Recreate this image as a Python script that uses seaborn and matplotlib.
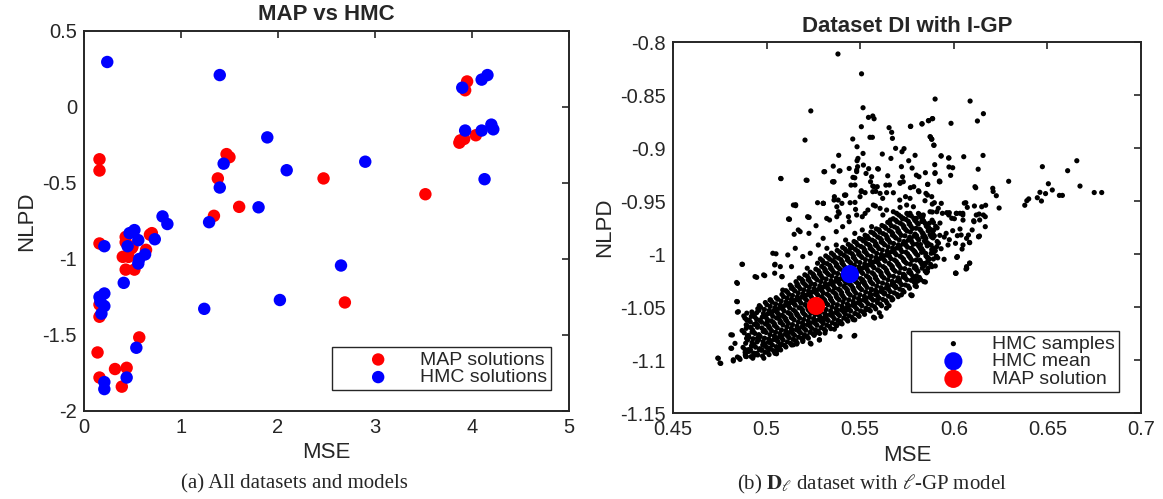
import pandas as pd
import seaborn as sns
import matplotlib.pyplot as plt
from matplotlib.ticker import FuncFormatter, MultipleLocator

# ====== STYLE ======
sns.set_theme(style="white")
plt.rcParams['font.family'] = ['Liberation Sans', 'DejaVu Sans']
plt.rcParams['mathtext.fontset'] = 'stix'
plt.rcParams['axes.unicode_minus'] = False

# ====== DATA (a): MAP vs HMC, all datasets and models ======
map_mse = [3.95, 3.93, 3.88, 3.92, 4.04, 3.87, 1.47, 1.50, 1.38, 1.34, 1.60, 2.47,
           3.52, 2.69, 0.16, 0.16, 0.16, 0.43, 0.43, 0.49, 0.64, 0.68, 0.70, 0.40,
           0.46, 0.43, 0.52, 0.50, 0.16, 0.16, 0.14, 0.57, 0.32, 0.44, 0.16, 0.39]
map_nlpd = [0.168, 0.11, -0.22, -0.21, -0.186, -0.235, -0.31, -0.33, -0.47, -0.716,
            -0.657, -0.47, -0.574, -1.286, -0.344, -0.418, -0.898, -0.855, -0.89,
            -0.93, -0.94, -0.84, -0.83, -0.986, -0.986, -1.07, -1.07, -0.92, -1.30,
            -1.38, -1.615, -1.516, -1.724, -1.716, -1.78, -1.84]

hmc_mse = [0.24, 1.40, 3.90, 4.10, 4.16, 3.93, 4.10, 4.20, 4.22, 4.13, 1.89, 2.09,
           2.90, 1.44, 1.40, 1.80, 1.29, 0.81, 0.86, 0.73, 0.21, 0.52, 0.47, 0.45,
           0.56, 0.63, 0.57, 0.56, 0.41, 2.65, 2.02, 1.24, 0.21, 0.16, 0.17, 0.21,
           0.18, 0.54, 0.44, 0.21, 0.21]
hmc_nlpd = [0.296, 0.21, 0.127, 0.18, 0.21, -0.155, -0.155, -0.116, -0.147, -0.475,
            -0.20, -0.416, -0.36, -0.373, -0.53, -0.66, -0.758, -0.72, -0.77, -0.87,
            -0.916, -0.81, -0.83, -0.916, -0.876, -0.97, -1.0, -1.03, -1.157, -1.043,
            -1.27, -1.328, -1.227, -1.25, -1.28, -1.31, -1.36, -1.584, -1.78, -1.81,
            -1.856]

# ====== DATA (b): HMC samples for dataset D_l with l-GP ======
# dense band of samples
samples_core = [
    (0.4886, -1.0953), (0.4874, -1.0881), (0.4893, -1.0796), (0.4869, -1.0722), (0.4891, -1.0668), (0.4878, -1.0584),
    (0.4917, -1.0968), (0.4903, -1.0902), (0.4922, -1.0834), (0.4898, -1.0771), (0.4915, -1.0693), (0.4907, -1.0626), (0.4921, -1.0547),
    (0.4946, -1.0937), (0.4932, -1.0858), (0.4951, -1.0795), (0.4928, -1.0728), (0.4944, -1.0655), (0.4936, -1.0592), (0.4953, -1.0516),
    (0.4978, -1.0962), (0.4963, -1.0893), (0.4981, -1.0826), (0.4959, -1.0764), (0.4974, -1.0697), (0.4966, -1.0628), (0.4983, -1.0561), (0.4961, -1.0487),
    (0.5006, -1.0928), (0.4991, -1.0866), (0.5012, -1.0802), (0.4988, -1.0719), (0.5003, -1.0664), (0.4996, -1.0597), (0.5014, -1.0533), (0.4993, -1.0458),
    (0.5037, -1.0912), (0.5022, -1.0838), (0.5041, -1.0773), (0.5018, -1.0702), (0.5033, -1.0641), (0.5026, -1.0566), (0.5044, -1.0508), (0.5021, -1.0433),
    (0.5068, -1.0884), (0.5053, -1.0812), (0.5071, -1.0749), (0.5049, -1.0683), (0.5064, -1.0607), (0.5056, -1.0551), (0.5073, -1.0479), (0.5051, -1.0412),
    (0.5095, -1.0862), (0.5081, -1.0791), (0.5102, -1.0724), (0.5078, -1.0648), (0.5093, -1.0593), (0.5086, -1.0517), (0.5104, -1.0452), (0.5082, -1.0381),
    (0.5127, -1.0843), (0.5112, -1.0768), (0.5131, -1.0702), (0.5108, -1.0634), (0.5123, -1.0562), (0.5116, -1.0488), (0.5133, -1.0427), (0.5111, -1.0359), (0.5126, -1.0294),
    (0.5156, -1.0818), (0.5141, -1.0752), (0.5162, -1.0681), (0.5138, -1.0607), (0.5153, -1.0543), (0.5146, -1.0468), (0.5164, -1.0404), (0.5142, -1.0332), (0.5157, -1.0261),
    (0.5187, -1.0797), (0.5172, -1.0724), (0.5191, -1.0652), (0.5168, -1.0583), (0.5183, -1.0511), (0.5176, -1.0442), (0.5193, -1.0374), (0.5171, -1.0306), (0.5186, -1.0238),
    (0.5216, -1.0773), (0.5201, -1.0704), (0.5222, -1.0631), (0.5198, -1.0562), (0.5213, -1.0488), (0.5206, -1.0421), (0.5224, -1.0348), (0.5202, -1.0283), (0.5217, -1.0209),
    (0.5247, -1.0752), (0.5232, -1.0681), (0.5251, -1.0609), (0.5228, -1.0537), (0.5243, -1.0468), (0.5236, -1.0397), (0.5253, -1.0326), (0.5231, -1.0258), (0.5246, -1.0187),
    (0.5276, -1.0728), (0.5261, -1.0657), (0.5282, -1.0583), (0.5258, -1.0514), (0.5273, -1.0442), (0.5266, -1.0371), (0.5284, -1.0302), (0.5262, -1.0229), (0.5277, -1.0158),
    (0.5307, -1.0708), (0.5292, -1.0634), (0.5311, -1.0562), (0.5288, -1.0489), (0.5303, -1.0421), (0.5296, -1.0348), (0.5313, -1.0277), (0.5291, -1.0206), (0.5306, -1.0133), (0.5298, -1.0062),
    (0.5336, -1.0683), (0.5321, -1.0612), (0.5342, -1.0538), (0.5318, -1.0464), (0.5333, -1.0393), (0.5326, -1.0322), (0.5344, -1.0251), (0.5322, -1.0178), (0.5337, -1.0108), (0.5329, -1.0034),
    (0.5367, -1.0662), (0.5352, -1.0587), (0.5371, -1.0514), (0.5348, -1.0442), (0.5363, -1.0368), (0.5356, -1.0297), (0.5373, -1.0226), (0.5351, -1.0152), (0.5366, -1.0081), (0.5358, -1.0009),
    (0.5396, -1.0638), (0.5381, -1.0566), (0.5402, -1.0491), (0.5378, -1.0417), (0.5393, -1.0344), (0.5386, -1.0271), (0.5404, -1.0198), (0.5382, -1.0126), (0.5397, -1.0053), (0.5389, -0.9981),
    (0.5427, -1.0617), (0.5412, -1.0548), (0.5431, -1.0472), (0.5408, -1.0398), (0.5423, -1.0322), (0.5416, -1.0251), (0.5433, -1.0173), (0.5411, -1.0104), (0.5426, -1.0027), (0.5418, -0.9953),
    (0.5456, -1.0598), (0.5441, -1.0522), (0.5462, -1.0447), (0.5438, -1.0373), (0.5453, -1.0298), (0.5446, -1.0224), (0.5464, -1.0148), (0.5442, -1.0072), (0.5457, -0.9998), (0.5449, -0.9924),
    (0.5487, -1.0573), (0.5472, -1.0498), (0.5491, -1.0421), (0.5468, -1.0348), (0.5483, -1.0271), (0.5476, -1.0198), (0.5493, -1.0122), (0.5471, -1.0047), (0.5486, -0.9973), (0.5478, -0.9893),
    (0.5516, -1.0548), (0.5501, -1.0473), (0.5522, -1.0398), (0.5498, -1.0321), (0.5513, -1.0244), (0.5506, -1.0168), (0.5524, -1.0093), (0.5502, -1.0018), (0.5517, -0.9942), (0.5509, -0.9862),
    (0.5547, -1.0522), (0.5532, -1.0448), (0.5551, -1.0371), (0.5528, -1.0294), (0.5543, -1.0218), (0.5536, -1.0142), (0.5553, -1.0063), (0.5531, -0.9988), (0.5546, -0.9912), (0.5538, -0.9833),
    (0.5576, -1.0497), (0.5561, -1.0421), (0.5582, -1.0343), (0.5558, -1.0268), (0.5573, -1.0192), (0.5566, -1.0114), (0.5584, -1.0033), (0.5562, -0.9958), (0.5577, -0.9883), (0.5569, -0.9802),
    (0.5607, -1.0473), (0.5592, -1.0394), (0.5611, -1.0318), (0.5588, -1.0241), (0.5603, -1.0162), (0.5596, -1.0083), (0.5613, -1.0004), (0.5591, -0.9928), (0.5606, -0.9852), (0.5598, -0.9773),
    (0.5636, -1.0441), (0.5621, -1.0363), (0.5642, -1.0288), (0.5618, -1.0212), (0.5633, -1.0133), (0.5626, -1.0052), (0.5644, -0.9973), (0.5622, -0.9898), (0.5637, -0.9821), (0.5629, -0.9742),
    (0.5667, -1.0412), (0.5652, -1.0334), (0.5671, -1.0258), (0.5648, -1.0182), (0.5663, -1.0103), (0.5656, -1.0022), (0.5673, -0.9943), (0.5651, -0.9868), (0.5666, -0.9791), (0.5658, -0.9712),
    (0.5696, -1.0381), (0.5681, -1.0302), (0.5702, -1.0224), (0.5678, -1.0148), (0.5693, -1.0071), (0.5686, -0.9992), (0.5704, -0.9913), (0.5682, -0.9834), (0.5697, -0.9758), (0.5689, -0.9681),
    (0.5727, -1.0343), (0.5712, -1.0268), (0.5731, -1.0191), (0.5708, -1.0112), (0.5723, -1.0034), (0.5716, -0.9958), (0.5733, -0.9882), (0.5711, -0.9803), (0.5726, -0.9724), (0.5718, -0.9648),
    (0.5756, -1.0302), (0.5741, -1.0228), (0.5762, -1.0152), (0.5738, -1.0073), (0.5753, -0.9998), (0.5746, -0.9921), (0.5764, -0.9843), (0.5742, -0.9768), (0.5757, -0.9692), (0.5749, -0.9617),
    (0.5787, -1.0262), (0.5772, -1.0188), (0.5791, -1.0112), (0.5768, -1.0038), (0.5783, -0.9962), (0.5776, -0.9887), (0.5793, -0.9812), (0.5771, -0.9738), (0.5786, -0.9663),
    (0.5816, -1.0221), (0.5801, -1.0148), (0.5822, -1.0073), (0.5798, -0.9998), (0.5813, -0.9928), (0.5806, -0.9852), (0.5824, -0.9778), (0.5802, -0.9703), (0.5817, -0.9628),
    (0.5847, -1.0162), (0.5832, -1.0088), (0.5851, -1.0018), (0.5828, -0.9948), (0.5843, -0.9878), (0.5836, -0.9808), (0.5853, -0.9737), (0.5831, -0.9668),
    (0.5876, -1.0098), (0.5861, -1.0032), (0.5882, -0.9958), (0.5858, -0.9893), (0.5873, -0.9818), (0.5866, -0.9752), (0.5884, -0.9681),
    (0.5907, -1.0021), (0.5892, -0.9948), (0.5911, -0.9882), (0.5888, -0.9808), (0.5903, -0.9738),
]

# second pass over the band, between the first rows
samples_core_b = [
    (0.4899, -1.0921), (0.4888, -1.0842), (0.4903, -1.0768), (0.4891, -1.0701), (0.4897, -1.0622),
    (0.4931, -1.0935), (0.4919, -1.0866), (0.4928, -1.0799), (0.4922, -1.0737), (0.4934, -1.0664), (0.4918, -1.0588),
    (0.4962, -1.0903), (0.4949, -1.0829), (0.4958, -1.0762), (0.4951, -1.0691), (0.4963, -1.0624), (0.4947, -1.0553),
    (0.4991, -1.0927), (0.4979, -1.0858), (0.4989, -1.0794), (0.4982, -1.0731), (0.4993, -1.0659), (0.4977, -1.0594), (0.4988, -1.0523),
    (0.5021, -1.0897), (0.5009, -1.0833), (0.5018, -1.0761), (0.5012, -1.0692), (0.5024, -1.0631), (0.5008, -1.0562), (0.5019, -1.0494),
    (0.5052, -1.0874), (0.5039, -1.0806), (0.5048, -1.0738), (0.5041, -1.0672), (0.5053, -1.0603), (0.5037, -1.0537), (0.5048, -1.0471),
    (0.5081, -1.0853), (0.5069, -1.0781), (0.5079, -1.0716), (0.5072, -1.0646), (0.5083, -1.0579), (0.5067, -1.0512), (0.5078, -1.0443),
    (0.5111, -1.0828), (0.5099, -1.0757), (0.5108, -1.0688), (0.5102, -1.0621), (0.5114, -1.0553), (0.5098, -1.0484), (0.5109, -1.0417), (0.5103, -1.0346),
    (0.5142, -1.0806), (0.5129, -1.0737), (0.5138, -1.0666), (0.5131, -1.0598), (0.5143, -1.0527), (0.5127, -1.0458), (0.5138, -1.0391), (0.5132, -1.0323),
    (0.5171, -1.0784), (0.5159, -1.0714), (0.5169, -1.0643), (0.5162, -1.0574), (0.5173, -1.0506), (0.5157, -1.0433), (0.5168, -1.0367), (0.5162, -1.0297), (0.5174, -1.0226),
    (0.5201, -1.0762), (0.5189, -1.0688), (0.5198, -1.0618), (0.5192, -1.0547), (0.5204, -1.0477), (0.5188, -1.0406), (0.5199, -1.0338), (0.5193, -1.0268), (0.5204, -1.0196),
    (0.5232, -1.0738), (0.5219, -1.0667), (0.5228, -1.0596), (0.5221, -1.0524), (0.5233, -1.0453), (0.5217, -1.0384), (0.5228, -1.0312), (0.5222, -1.0242), (0.5233, -1.0171),
    (0.5261, -1.0716), (0.5249, -1.0643), (0.5259, -1.0571), (0.5252, -1.0502), (0.5263, -1.0428), (0.5247, -1.0357), (0.5258, -1.0287), (0.5252, -1.0216), (0.5263, -1.0143),
    (0.5291, -1.0694), (0.5279, -1.0621), (0.5288, -1.0548), (0.5282, -1.0476), (0.5294, -1.0404), (0.5278, -1.0333), (0.5289, -1.0261), (0.5283, -1.0188), (0.5294, -1.0117), (0.5287, -1.0046),
    (0.5322, -1.0671), (0.5309, -1.0597), (0.5318, -1.0524), (0.5311, -1.0452), (0.5323, -1.0379), (0.5307, -1.0308), (0.5318, -1.0236), (0.5312, -1.0163), (0.5323, -1.0091), (0.5316, -1.0018),
    (0.5351, -1.0648), (0.5339, -1.0574), (0.5349, -1.0501), (0.5342, -1.0427), (0.5353, -1.0354), (0.5337, -1.0283), (0.5348, -1.0209), (0.5342, -1.0137), (0.5353, -1.0064), (0.5346, -0.9992),
    (0.5381, -1.0626), (0.5369, -1.0552), (0.5378, -1.0478), (0.5372, -1.0403), (0.5384, -1.0331), (0.5368, -1.0257), (0.5379, -1.0184), (0.5373, -1.0112), (0.5384, -1.0038), (0.5377, -0.9966),
    (0.5412, -1.0603), (0.5399, -1.0528), (0.5408, -1.0453), (0.5401, -1.0381), (0.5413, -1.0306), (0.5397, -1.0233), (0.5408, -1.0158), (0.5402, -1.0086), (0.5413, -1.0012), (0.5406, -0.9938),
    (0.5441, -1.0582), (0.5429, -1.0507), (0.5439, -1.0432), (0.5432, -1.0356), (0.5443, -1.0283), (0.5427, -1.0208), (0.5438, -1.0133), (0.5432, -1.0058), (0.5443, -0.9984), (0.5436, -0.9909),
    (0.5471, -1.0561), (0.5459, -1.0484), (0.5468, -1.0409), (0.5462, -1.0333), (0.5474, -1.0258), (0.5458, -1.0183), (0.5469, -1.0107), (0.5463, -1.0032), (0.5474, -0.9957), (0.5467, -0.9882),
    (0.5502, -1.0536), (0.5489, -1.0459), (0.5498, -1.0384), (0.5491, -1.0307), (0.5503, -1.0232), (0.5487, -1.0156), (0.5498, -1.0081), (0.5492, -1.0004), (0.5503, -0.9928), (0.5496, -0.9853),
    (0.5531, -1.0511), (0.5519, -1.0434), (0.5529, -1.0357), (0.5522, -1.0281), (0.5533, -1.0206), (0.5517, -1.0128), (0.5528, -1.0053), (0.5522, -0.9976), (0.5533, -0.9901), (0.5526, -0.9823),
    (0.5561, -1.0483), (0.5549, -1.0407), (0.5558, -1.0331), (0.5552, -1.0253), (0.5564, -1.0177), (0.5548, -1.0101), (0.5559, -1.0023), (0.5553, -0.9947), (0.5564, -0.9869), (0.5557, -0.9793),
    (0.5592, -1.0458), (0.5579, -1.0381), (0.5588, -1.0303), (0.5581, -1.0227), (0.5593, -1.0149), (0.5577, -1.0072), (0.5588, -0.9994), (0.5582, -0.9918), (0.5593, -0.9839), (0.5586, -0.9763),
    (0.5621, -1.0429), (0.5609, -1.0352), (0.5619, -1.0274), (0.5612, -1.0197), (0.5623, -1.0119), (0.5607, -1.0041), (0.5618, -0.9963), (0.5612, -0.9887), (0.5623, -0.9808), (0.5616, -0.9731),
    (0.5651, -1.0398), (0.5639, -1.0321), (0.5648, -1.0243), (0.5642, -1.0167), (0.5654, -1.0088), (0.5638, -1.0011), (0.5649, -0.9932), (0.5643, -0.9856), (0.5654, -0.9778), (0.5647, -0.9701),
    (0.5682, -1.0366), (0.5669, -1.0288), (0.5678, -1.0211), (0.5671, -1.0133), (0.5683, -1.0056), (0.5667, -0.9978), (0.5678, -0.9901), (0.5672, -0.9822), (0.5683, -0.9744), (0.5676, -0.9667),
    (0.5711, -1.0331), (0.5699, -1.0253), (0.5709, -1.0176), (0.5702, -1.0098), (0.5713, -1.0021), (0.5697, -0.9943), (0.5708, -0.9866), (0.5702, -0.9787), (0.5713, -0.9709), (0.5706, -0.9632),
    (0.5741, -1.0292), (0.5729, -1.0216), (0.5738, -1.0138), (0.5732, -1.0061), (0.5744, -0.9983), (0.5728, -0.9906), (0.5739, -0.9828), (0.5733, -0.9752), (0.5744, -0.9674),
    (0.5772, -1.0248), (0.5759, -1.0173), (0.5768, -1.0097), (0.5761, -1.0021), (0.5773, -0.9946), (0.5757, -0.9869), (0.5768, -0.9793), (0.5762, -0.9718), (0.5773, -0.9641),
    (0.5801, -1.0206), (0.5789, -1.0131), (0.5799, -1.0057), (0.5792, -0.9982), (0.5803, -0.9907), (0.5787, -0.9832), (0.5798, -0.9757), (0.5792, -0.9683),
    (0.5831, -1.0133), (0.5819, -1.0058), (0.5828, -0.9984), (0.5822, -0.9911), (0.5834, -0.9838), (0.5818, -0.9766), (0.5829, -0.9693),
    (0.5862, -1.0067), (0.5849, -0.9994), (0.5858, -0.9923), (0.5851, -0.9852), (0.5863, -0.9781), (0.5847, -0.9711),
    (0.5891, -0.9988), (0.5879, -0.9917), (0.5889, -0.9848), (0.5882, -0.9776),
]

# third pass over the band, filling the remaining gaps
samples_core_c = [
    (0.4892, -1.0968), (0.4885, -1.0902), (0.4898, -1.0811), (0.4880, -1.0743), (0.4897, -1.0683), (0.4884, -1.0605),
    (0.4926, -1.0983), (0.4909, -1.0917), (0.4928, -1.0855), (0.4906, -1.0786), (0.4924, -1.0714), (0.4913, -1.0641), (0.4927, -1.0568),
    (0.4953, -1.0952), (0.4941, -1.0879), (0.4957, -1.0810), (0.4937, -1.0749), (0.4951, -1.0670), (0.4945, -1.0613), (0.4959, -1.0531),
    (0.4985, -1.0983), (0.4972, -1.0908), (0.4987, -1.0847), (0.4966, -1.0779), (0.4983, -1.0718), (0.4973, -1.0643), (0.4991, -1.0582), (0.4968, -1.0502),
    (0.5013, -1.0949), (0.5000, -1.0881), (0.5018, -1.0817), (0.4997, -1.0740), (0.5011, -1.0679), (0.5004, -1.0618), (0.5020, -1.0548), (0.5001, -1.0479),
    (0.5044, -1.0927), (0.5031, -1.0859), (0.5048, -1.0788), (0.5026, -1.0723), (0.5041, -1.0656), (0.5033, -1.0587), (0.5051, -1.0523), (0.5029, -1.0454),
    (0.5075, -1.0905), (0.5061, -1.0827), (0.5078, -1.0770), (0.5057, -1.0698), (0.5072, -1.0628), (0.5063, -1.0566), (0.5081, -1.0500), (0.5059, -1.0427),
    (0.5103, -1.0877), (0.5088, -1.0812), (0.5109, -1.0739), (0.5087, -1.0669), (0.5101, -1.0608), (0.5093, -1.0538), (0.5111, -1.0467), (0.5090, -1.0402),
    (0.5134, -1.0858), (0.5121, -1.0789), (0.5138, -1.0717), (0.5116, -1.0655), (0.5131, -1.0577), (0.5123, -1.0509), (0.5141, -1.0442), (0.5119, -1.0380), (0.5133, -1.0309),
    (0.5163, -1.0839), (0.5149, -1.0767), (0.5169, -1.0702), (0.5147, -1.0622), (0.5161, -1.0564), (0.5153, -1.0483), (0.5171, -1.0425), (0.5150, -1.0347), (0.5164, -1.0282),
    (0.5194, -1.0812), (0.5181, -1.0745), (0.5198, -1.0667), (0.5176, -1.0604), (0.5191, -1.0526), (0.5183, -1.0463), (0.5201, -1.0389), (0.5179, -1.0327), (0.5193, -1.0253),
    (0.5223, -1.0794), (0.5209, -1.0719), (0.5229, -1.0652), (0.5207, -1.0577), (0.5221, -1.0509), (0.5213, -1.0436), (0.5231, -1.0369), (0.5210, -1.0298), (0.5224, -1.0230),
    (0.5254, -1.0767), (0.5241, -1.0702), (0.5258, -1.0624), (0.5236, -1.0558), (0.5251, -1.0483), (0.5243, -1.0418), (0.5261, -1.0341), (0.5239, -1.0279), (0.5253, -1.0202),
    (0.5283, -1.0749), (0.5269, -1.0672), (0.5289, -1.0604), (0.5267, -1.0529), (0.5281, -1.0463), (0.5273, -1.0386), (0.5291, -1.0323), (0.5270, -1.0244), (0.5284, -1.0179),
    (0.5314, -1.0723), (0.5301, -1.0655), (0.5318, -1.0577), (0.5296, -1.0510), (0.5311, -1.0436), (0.5303, -1.0369), (0.5321, -1.0292), (0.5299, -1.0227), (0.5313, -1.0148), (0.5306, -1.0083),
    (0.5343, -1.0704), (0.5329, -1.0627), (0.5349, -1.0559), (0.5327, -1.0479), (0.5341, -1.0414), (0.5333, -1.0337), (0.5351, -1.0272), (0.5330, -1.0193), (0.5344, -1.0129), (0.5337, -1.0049),
    (0.5374, -1.0677), (0.5361, -1.0608), (0.5378, -1.0529), (0.5356, -1.0463), (0.5371, -1.0383), (0.5363, -1.0318), (0.5381, -1.0241), (0.5359, -1.0173), (0.5373, -1.0096), (0.5366, -1.0030),
    (0.5403, -1.0659), (0.5389, -1.0581), (0.5409, -1.0512), (0.5387, -1.0432), (0.5401, -1.0365), (0.5393, -1.0286), (0.5411, -1.0219), (0.5390, -1.0141), (0.5404, -1.0074), (0.5397, -0.9996),
    (0.5434, -1.0632), (0.5421, -1.0569), (0.5438, -1.0487), (0.5416, -1.0419), (0.5431, -1.0337), (0.5423, -1.0272), (0.5441, -1.0188), (0.5419, -1.0125), (0.5433, -1.0042), (0.5426, -0.9974),
    (0.5463, -1.0619), (0.5449, -1.0537), (0.5469, -1.0468), (0.5447, -1.0388), (0.5461, -1.0319), (0.5453, -1.0239), (0.5471, -1.0169), (0.5450, -1.0087), (0.5464, -1.0019), (0.5457, -0.9939),
    (0.5494, -1.0588), (0.5481, -1.0519), (0.5498, -1.0436), (0.5476, -1.0369), (0.5491, -1.0286), (0.5483, -1.0219), (0.5501, -1.0137), (0.5479, -1.0068), (0.5493, -0.9988), (0.5486, -0.9914),
    (0.5523, -1.0569), (0.5509, -1.0488), (0.5529, -1.0419), (0.5507, -1.0336), (0.5521, -1.0265), (0.5513, -1.0183), (0.5531, -1.0114), (0.5510, -1.0033), (0.5524, -0.9963), (0.5517, -0.9877),
    (0.5554, -1.0537), (0.5541, -1.0469), (0.5558, -1.0386), (0.5536, -1.0315), (0.5551, -1.0233), (0.5543, -1.0163), (0.5561, -1.0078), (0.5539, -1.0009), (0.5553, -0.9927), (0.5546, -0.9854),
    (0.5583, -1.0518), (0.5569, -1.0436), (0.5589, -1.0364), (0.5567, -1.0283), (0.5581, -1.0213), (0.5573, -1.0129), (0.5591, -1.0054), (0.5570, -0.9973), (0.5584, -0.9904), (0.5577, -0.9817),
    (0.5614, -1.0488), (0.5601, -1.0415), (0.5618, -1.0333), (0.5596, -1.0262), (0.5611, -1.0177), (0.5603, -1.0104), (0.5621, -1.0019), (0.5599, -0.9949), (0.5613, -0.9867), (0.5606, -0.9794),
    (0.5643, -1.0462), (0.5629, -1.0378), (0.5649, -1.0309), (0.5627, -1.0227), (0.5641, -1.0154), (0.5633, -1.0067), (0.5651, -0.9994), (0.5630, -0.9913), (0.5644, -0.9842), (0.5637, -0.9757),
    (0.5674, -1.0427), (0.5661, -1.0355), (0.5678, -1.0273), (0.5656, -1.0203), (0.5671, -1.0118), (0.5663, -1.0043), (0.5681, -0.9958), (0.5659, -0.9889), (0.5673, -0.9806), (0.5666, -0.9733),
    (0.5703, -1.0402), (0.5689, -1.0317), (0.5709, -1.0245), (0.5687, -1.0163), (0.5701, -1.0092), (0.5693, -1.0007), (0.5711, -0.9934), (0.5690, -0.9849), (0.5704, -0.9779), (0.5697, -0.9696),
    (0.5734, -1.0358), (0.5721, -1.0289), (0.5738, -1.0206), (0.5716, -1.0133), (0.5731, -1.0049), (0.5723, -0.9979), (0.5741, -0.9897), (0.5719, -0.9824), (0.5733, -0.9739), (0.5726, -0.9669),
    (0.5763, -1.0323), (0.5749, -1.0243), (0.5769, -1.0173), (0.5747, -1.0088), (0.5761, -1.0019), (0.5753, -0.9936), (0.5771, -0.9864), (0.5750, -0.9783), (0.5764, -0.9713), (0.5757, -0.9632),
    (0.5794, -1.0277), (0.5781, -1.0209), (0.5798, -1.0127), (0.5776, -1.0059), (0.5791, -0.9977), (0.5783, -0.9908), (0.5801, -0.9827), (0.5779, -0.9759), (0.5793, -0.9678),
    (0.5823, -1.0242), (0.5809, -1.0163), (0.5829, -1.0094), (0.5807, -1.0013), (0.5821, -0.9949), (0.5813, -0.9867), (0.5831, -0.9799), (0.5810, -0.9718), (0.5824, -0.9649),
    (0.5854, -1.0177), (0.5841, -1.0109), (0.5858, -1.0033), (0.5836, -0.9969), (0.5851, -0.9893), (0.5843, -0.9829), (0.5861, -0.9752), (0.5839, -0.9689),
    (0.5883, -1.0119), (0.5869, -1.0047), (0.5889, -0.9979), (0.5867, -0.9908), (0.5881, -0.9839), (0.5873, -0.9767), (0.5891, -0.9702),
    (0.5914, -1.0036), (0.5901, -0.9969), (0.5918, -0.9897), (0.5896, -0.9829), (0.5911, -0.9753),
]

# looser samples around the band
samples_spread = [
    (0.5075, -0.9287), (0.5211, -0.9303), (0.5143, -0.9538), (0.5117, -0.9670), (0.5219, -0.9648),
    (0.5147, -0.9814), (0.5169, -0.9773), (0.5226, -0.9805), (0.5264, -0.9733), (0.5306, -0.9224),
    (0.5352, -0.9318), (0.5302, -0.9522), (0.5272, -0.9516), (0.5362, -0.9459), (0.5382, -0.9491),
    (0.5402, -0.9522), (0.5388, -0.9616), (0.5416, -0.9444), (0.5451, -0.9350), (0.5471, -0.9281),
    (0.5481, -0.9208), (0.5517, -0.9161), (0.5531, -0.9240), (0.5555, -0.9318), (0.5505, -0.9412),
    (0.5567, -0.9412), (0.5591, -0.9365), (0.5637, -0.9350), (0.5677, -0.9422), (0.5711, -0.9491),
    (0.5742, -0.9459), (0.5786, -0.9365), (0.5814, -0.9412), (0.5859, -0.9444), (0.5846, -0.9497),
    (0.5899, -0.9240), (0.5923, -0.9318), (0.5800, -0.9256), (0.5726, -0.9271), (0.5647, -0.9262),
    (0.5597, -0.9199), (0.5441, -0.9193), (0.5392, -0.9215), (0.5356, -0.9171), (0.5475, -0.9579),
    (0.5511, -0.9648), (0.5541, -0.9585), (0.5581, -0.9547), (0.5621, -0.9632), (0.5661, -0.9679),
    (0.5694, -0.9616), (0.5730, -0.9663), (0.5766, -0.9616), (0.5800, -0.9663), (0.5834, -0.9648),
    (0.5869, -0.9710), (0.5893, -0.9773), (0.5925, -0.9824), (0.5959, -0.9805), (0.5989, -0.9663),
    (0.6013, -0.9616), (0.5909, -0.9601), (0.5885, -0.9529), (0.5933, -0.9522), (0.5969, -0.9616),
    (0.5441, -0.9695), (0.5406, -0.9742), (0.5372, -0.9789), (0.5336, -0.9679), (0.5302, -0.9852),
    (0.5276, -0.9915), (0.5322, -0.9946), (0.5372, -0.9915), (0.5422, -0.9868), (0.5471, -0.9805),
    (0.5511, -0.9773), (0.5561, -0.9742), (0.5601, -0.9773), (0.5531, -0.9852), (0.5447, -0.9946),
    (0.5396, -0.9993), (0.5233, -0.9993), (0.5193, -1.0024), (0.5153, -0.9946), (0.5113, -1.0009),
    (0.5073, -1.0119), (0.5043, -1.0103), (0.5033, -0.9993), (0.5083, -1.0213), (0.5043, -1.0181),
    (0.5133, -1.0119), (0.5272, -1.0087), (0.5217, -1.0134), (0.4938, -1.0213), (0.4984, -1.0197),
    (0.4840, -1.0269), (0.4868, -1.0097), (0.4840, -1.0448), (0.4844, -1.0549), (0.4894, -1.0558),
    (0.5471, -1.0768), (0.5233, -1.0841), (0.5282, -1.0809), (0.5362, -1.0709), (0.5392, -1.0778),
    (0.5312, -1.0746), (0.5143, -1.0856), (0.5053, -1.0941), (0.5014, -1.0888), (0.4934, -1.0941),
    (0.4974, -1.0903), (0.4888, -1.0966), (0.4914, -1.0903), (0.4854, -1.0982), (0.4822, -1.0998),
    (0.4809, -1.0888), (0.4809, -1.0762), (0.4739, -1.0982), (0.4751, -1.1029), (0.5571, -1.0596),
    (0.5611, -1.0589), (0.5640, -1.0511), (0.5670, -1.0433), (0.5720, -1.0385), (0.5770, -1.0385),
    (0.5800, -1.0307), (0.5840, -1.0260), (0.5790, -1.0228), (0.5859, -1.0166), (0.5849, -1.0087),
    (0.5879, -0.9993), (0.5909, -0.9930), (0.5969, -0.9915), (0.6009, -0.9899), (0.6049, -0.9915),
    (0.6039, -0.9821), (0.6068, -0.9852), (0.6019, -1.0024), (0.6068, -1.0119), (0.6084, -1.0087),
    (0.6009, -1.0181), (0.6078, -0.9821), (0.6108, -0.9695), (0.6138, -0.9679), (0.6168, -0.9742),
    (0.6158, -0.9632), (0.6132, -0.9836), (0.6098, -0.9773), (0.5511, -1.0260), (0.5561, -1.0338),
    (0.5591, -1.0433), (0.5531, -1.0527), (0.5631, -1.0370), (0.5690, -1.0307), (0.5432, -1.0527),
    (0.5471, -1.0621), (0.5392, -1.0652), (0.5302, -1.0637), (0.5262, -1.0746), (0.5203, -1.0778),
    (0.5173, -1.0731), (0.5113, -1.0778), (0.5073, -1.0856), (0.5193, -1.0825),
    (0.4742, -1.0984), (0.4755, -1.1032), (0.4822, -1.1009), (0.4813, -1.0890), (0.4844, -1.0972),
    (0.4858, -1.0994), (0.4849, -1.0544), (0.4844, -1.0450), (0.4844, -1.0277), (0.4871, -1.0097),
    (0.4947, -1.0220), (0.4990, -1.0204), (0.5050, -0.9998), (0.5045, -1.0097), (0.5081, -1.0214),
    (0.5122, -0.9673), (0.5155, -0.9544), (0.5227, -0.9654), (0.5179, -0.9789), (0.4817, -1.0764),
    (0.4894, -1.0623), (0.5004, -1.0632), (0.5018, -1.0434), (0.5086, -1.0340), (0.5467, -1.0774),
    (0.5775, -1.0393), (0.5654, -1.0488), (0.5577, -1.0604), (0.5602, -1.0554), (0.5045, -1.0937),
    (0.4938, -1.0953), (0.4885, -1.0928), (0.4831, -1.0843), (0.5161, -1.0849), (0.5237, -1.0849),
    (0.5282, -1.0811), (0.5054, -1.0912), (0.5303, -0.9522), (0.5360, -0.9317), (0.5423, -0.9443),
    (0.5472, -0.9349), (0.5574, -0.9365), (0.5713, -0.9327), (0.5860, -0.9343), (0.5926, -0.9318),
    (0.6064, -0.9516), (0.6113, -0.9365), (0.6110, -0.9547), (0.6083, -0.9890), (0.6069, -1.0135),
    (0.6016, -1.0032), (0.6048, -0.9616), (0.6137, -0.9830), (0.5976, -0.9610), (0.6012, -1.0182),
]

# sparse samples in the upper part of the cloud
samples_upper = [
    (0.5381, -0.8113), (0.5507, -0.8300), (0.5236, -0.8650), (0.5515, -0.8620), (0.5544, -0.8711),
    (0.5567, -0.8698), (0.5574, -0.8724), (0.5506, -0.8799), (0.5205, -0.8925), (0.5460, -0.8915),
    (0.5552, -0.8899), (0.5565, -0.8899), (0.5654, -0.8808), (0.5668, -0.8852), (0.5672, -0.8909),
    (0.5768, -0.8796), (0.5830, -0.8770), (0.5866, -0.8742), (0.5887, -0.8723), (0.5873, -0.8893),
    (0.5882, -0.8915), (0.5893, -0.8972), (0.5385, -0.9069), (0.5483, -0.8988), (0.5515, -0.9051),
    (0.5618, -0.9057), (0.5664, -0.9098), (0.5689, -0.9003), (0.5723, -0.9035), (0.5734, -0.9006),
    (0.5759, -0.9120), (0.5793, -0.9069), (0.5932, -0.9076), (0.5972, -0.9094), (0.5077, -0.9289),
    (0.5216, -0.9305), (0.5310, -0.9223), (0.5358, -0.9321), (0.5388, -0.9217), (0.5461, -0.9277),
    (0.5483, -0.9120), (0.5488, -0.9098), (0.5486, -0.9176), (0.5481, -0.9223), (0.5545, -0.9195),
    (0.5561, -0.9271), (0.5593, -0.9195), (0.5720, -0.9176), (0.5777, -0.9189), (0.5814, -0.9271),
    (0.5848, -0.9233), (0.5861, -0.9343), (0.5898, -0.9157), (0.5900, -0.9233), (0.5923, -0.9311),
    (0.5974, -0.9179), (0.5155, -0.9535), (0.5303, -0.9522), (0.5419, -0.9447), (0.5360, -0.9491),
    (0.5375, -0.9554), (0.5383, -0.9601), (0.5446, -0.9516), (0.5472, -0.9513), (0.5499, -0.9459),
    (0.5526, -0.9421), (0.5506, -0.9403), (0.5567, -0.9359), (0.5583, -0.9409), (0.5606, -0.9428),
    (0.5641, -0.9421), (0.5620, -0.9475), (0.5656, -0.9349), (0.5713, -0.9333), (0.5730, -0.9318),
    (0.5768, -0.9374), (0.5811, -0.9403), (0.5766, -0.9475), (0.5851, -0.9428), (0.5882, -0.9459),
    (0.5917, -0.9569), (0.5896, -0.9516), (0.5873, -0.9601), (0.5837, -0.9632), (0.5811, -0.9617),
    (0.5962, -0.9610), (0.6015, -0.9617), (0.5713, -0.9560), (0.5748, -0.9538), (0.5784, -0.9554),
    (0.5570, -0.9538), (0.5606, -0.9569), (0.5641, -0.9585), (0.5677, -0.9601), (0.5437, -0.9648),
    (0.5481, -0.9632), (0.5526, -0.9617), (0.5321, -0.9664), (0.5375, -0.9648), (0.5120, -0.9670),
    (0.5223, -0.9654),
]

# samples on the right-hand tail
samples_right = [
    (0.6657, -0.9120), (0.6608, -0.9214), (0.6473, -0.9176), (0.6674, -0.9359), (0.6750, -0.9420),
    (0.6790, -0.9420), (0.6505, -0.9337), (0.6526, -0.9396), (0.6460, -0.9418), (0.6490, -0.9430),
    (0.6468, -0.9500), (0.6564, -0.9447), (0.6580, -0.9447), (0.6446, -0.9469), (0.6400, -0.9480),
    (0.6390, -0.9497), (0.6379, -0.9540), (0.6293, -0.9314), (0.6242, -0.9566), (0.6208, -0.9380),
    (0.6210, -0.9410), (0.6227, -0.9450), (0.6117, -0.9375), (0.6156, -0.9070), (0.6130, -0.9200),
    (0.6087, -0.8557), (0.6158, -0.8676), (0.6126, -0.8745), (0.5900, -0.8538), (0.5985, -0.8767),
    (0.5770, -0.8795), (0.5830, -0.8774), (0.5864, -0.8742), (0.5885, -0.8723), (0.5875, -0.8896),
    (0.5882, -0.8918), (0.5894, -0.8975), (0.5932, -0.9073), (0.5974, -0.9094), (0.6053, -0.9082),
    (0.5983, -0.9258), (0.5994, -0.9186), (0.6170, -0.9540), (0.6149, -0.9554), (0.6168, -0.9648),
    (0.6135, -0.9623), (0.6120, -0.9632), (0.6133, -0.9837), (0.6085, -0.9893), (0.6048, -0.9632),
    (0.6044, -0.9953), (0.6017, -1.0028), (0.6085, -1.0085), (0.6065, -1.0142), (0.6010, -1.0180),
    (0.6072, -0.9560), (0.6056, -0.9520), (0.6106, -0.9686), (0.6033, -0.9616), (0.6049, -0.9680),
    (0.6019, -0.9827), (0.5994, -0.9780), (0.6003, -0.9667), (0.6033, -0.9764), (0.5973, -0.9632),
    (0.5939, -0.9616), (0.5885, -0.9604), (0.5926, -0.9708), (0.5949, -0.9840), (0.5976, -0.9865),
    (0.5932, -0.9950), (0.5948, -1.0050), (0.5891, -1.0047), (0.5901, -1.0113), (0.5862, -1.0135),
    (0.5848, -1.0264), (0.5777, -1.0390), (0.5793, -1.0299), (0.5846, -1.0097), (0.5807, -1.0255),
    (0.5734, -1.0210),
]

hmc_mean = (0.5445, -1.019)
map_solution = (0.5264, -1.049)

samples = pd.DataFrame(samples_core + samples_core_b + samples_core_c + samples_spread
                       + samples_upper + samples_right, columns=["mse", "nlpd"])

# ====== FIGURE ======
fig = plt.figure(figsize=(11.63, 4.99), dpi=100)
ax1 = fig.add_axes([0.0722, 0.1764, 0.4170, 0.7615])
ax2 = fig.add_axes([0.5787, 0.1723, 0.4024, 0.7435])

frame_col = "#262626"

# ---- (a) ----
sns.scatterplot(x=map_mse, y=map_nlpd, color="#ff0000", s=80, edgecolor="none",
                label="MAP solutions", ax=ax1)
sns.scatterplot(x=hmc_mse, y=hmc_nlpd, color="#0000ff", s=80, edgecolor="none",
                label="HMC solutions", ax=ax1)
ax1.set_xlim(0, 5)
ax1.set_ylim(-2, 0.5)
ax1.xaxis.set_major_locator(MultipleLocator(1))
ax1.yaxis.set_major_locator(MultipleLocator(0.5))
ax1.set_title("MAP vs HMC", fontsize=16, fontweight="bold", pad=8)
ax1.legend(loc="lower right", bbox_to_anchor=(0.963, 0.055), fontsize=14,
           frameon=True, fancybox=False, framealpha=1, edgecolor=frame_col,
           borderpad=0.2, labelspacing=0.0, handlelength=4.3, handletextpad=0.0,
           borderaxespad=0)

# ---- (b) ----
sns.scatterplot(data=samples, x="mse", y="nlpd", color="black", s=14, edgecolor="none",
                label="HMC samples", ax=ax2)
sns.scatterplot(x=[hmc_mean[0]], y=[hmc_mean[1]], color="#0000ff", s=170, edgecolor="none",
                label="HMC mean", ax=ax2)
sns.scatterplot(x=[map_solution[0]], y=[map_solution[1]], color="#ff0000", s=170,
                edgecolor="none", label="MAP solution", ax=ax2)
ax2.set_xlim(0.45, 0.7)
ax2.set_ylim(-1.15, -0.8)
ax2.xaxis.set_major_locator(MultipleLocator(0.05))
ax2.yaxis.set_major_locator(MultipleLocator(0.05))
ax2.set_title("Dataset DI with I-GP", fontsize=16, fontweight="bold", pad=7)
ax2.legend(loc="lower right", bbox_to_anchor=(0.953, 0.057), fontsize=14,
           frameon=True, fancybox=False, framealpha=1, edgecolor=frame_col,
           borderpad=0.2, labelspacing=0.0, handlelength=4.0, handletextpad=0.0,
           borderaxespad=0)

# ---- shared MATLAB-like axes styling ----
for ax in (ax1, ax2):
    ax.set_xlabel("MSE", fontsize=16, color=frame_col)
    ax.set_ylabel("NLPD", fontsize=16, color=frame_col)
    ax.xaxis.set_major_formatter(FuncFormatter(lambda v, p: "%g" % round(v, 4)))
    ax.yaxis.set_major_formatter(FuncFormatter(lambda v, p: "%g" % round(v, 4)))
    ax.tick_params(direction="in", length=5, width=1.2, top=True, right=True,
                   labelsize=14.5, colors=frame_col, labelcolor=frame_col, pad=5)
    for sp in ax.spines.values():
        sp.set_color(frame_col)
        sp.set_linewidth(1.4)

# ---- captions ----
fig.text(294 / 1163, 1 - 484 / 499, "(a) All datasets and models", ha="center", va="center",
         fontsize=15, family="Liberation Serif")
fig.text(872 / 1163, 1 - 484 / 499, r"(b) $\mathbf{D}_\ell$ dataset with $\ell$-GP model",
         ha="center", va="center", fontsize=15, family="Liberation Serif")

plt.savefig("out.png", dpi=100)
plt.close()
